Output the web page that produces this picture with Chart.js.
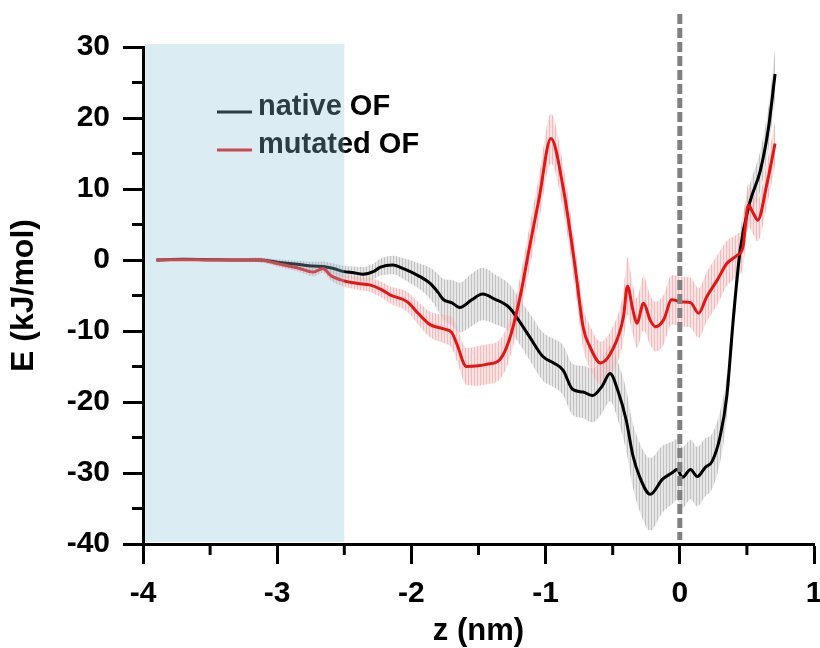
<!DOCTYPE html>
<html>
<head>
<meta charset="utf-8">
<script src="https://cdn.jsdelivr.net/npm/chart.js@4"></script>
<style>
html, body { margin: 0; padding: 0; background: #fff; }
</style>
</head>
<body>
<canvas id="energy_chart" width="820" height="648"></canvas>
<script>
// energy profile along z, native vs mutated
var native_z   = [-3.90,-3.70,-3.50,-3.30,-3.13,-3.00,-2.85,-2.73,-2.66,-2.58,-2.51,-2.43,-2.36,-2.28,-2.23,-2.14,-2.05,-1.94,-1.86,-1.80,-1.76,-1.70,-1.64,-1.55,-1.47,-1.38,-1.27,-1.20,-1.12,-1.02,-0.94,-0.87,-0.80,-0.72,-0.65,-0.58,-0.52,-0.46,-0.40,-0.35,-0.30,-0.22,-0.13,-0.06,-0.02,0.02,0.08,0.13,0.19,0.24,0.30,0.35,0.40,0.45,0.52,0.60,0.66,0.71];
var native_E   = [0,0.1,0.05,0,0,-0.3,-0.6,-0.85,-0.9,-1.2,-1.6,-1.8,-2.0,-1.6,-1.0,-0.7,-1.3,-2.3,-3.3,-4.6,-5.6,-6.0,-6.7,-5.6,-4.8,-5.5,-6.7,-8.5,-10.8,-13.6,-14.5,-15.5,-18.2,-18.6,-19.1,-17.8,-16.0,-18.5,-22.5,-27.5,-30.5,-33.0,-30.9,-30.0,-29.5,-30.6,-29.5,-30.5,-29.2,-28.4,-24.9,-19.2,-8.0,1.4,8.0,12.6,18.5,26.2];
var native_err = [0.2,0.2,0.2,0.2,0.3,0.4,0.5,0.6,0.7,0.7,0.8,0.9,1.0,1.1,1.2,1.3,1.5,1.8,2.2,2.6,2.9,3.2,3.5,3.7,3.7,3.5,3.3,3.2,3.3,3.4,3.4,3.5,3.6,3.7,3.8,3.8,3.9,4.1,4.3,4.5,4.8,5.1,4.7,4.4,4.3,4.3,4.2,4.2,4.1,3.9,3.6,3.0,2.5,2.5,2.5,2.8,3.0,3.5];

var mutated_z   = [-3.90,-3.70,-3.50,-3.30,-3.13,-3.00,-2.85,-2.73,-2.66,-2.60,-2.51,-2.40,-2.31,-2.22,-2.16,-2.03,-1.95,-1.86,-1.76,-1.70,-1.66,-1.59,-1.50,-1.44,-1.34,-1.27,-1.19,-1.12,-1.05,-0.96,-0.87,-0.78,-0.72,-0.67,-0.59,-0.50,-0.42,-0.39,-0.35,-0.32,-0.27,-0.22,-0.18,-0.12,-0.06,0.02,0.08,0.14,0.20,0.28,0.35,0.43,0.47,0.51,0.55,0.58,0.65,0.71];
var mutated_E   = [0,0.05,0,0,0,-0.5,-1.1,-1.7,-1.2,-2.2,-2.9,-3.3,-3.5,-4.2,-4.9,-5.9,-7.5,-9.1,-9.7,-10.2,-11.9,-15.0,-14.9,-14.7,-14.0,-11.2,-5.2,1.8,8.5,17.1,10.3,-1.0,-9.5,-12.2,-14.5,-12.6,-8.0,-3.7,-7.0,-8.9,-6.1,-8.5,-9.4,-8.4,-5.6,-5.9,-6.0,-7.5,-5.2,-2.8,-0.5,0.7,1.8,7.7,6.5,5.6,10.8,16.4];
var mutated_err = [0.2,0.2,0.2,0.2,0.3,0.4,0.5,0.6,0.6,0.7,0.8,0.9,1.0,1.1,1.2,1.4,1.6,1.8,2.0,2.2,2.4,2.6,2.8,2.8,2.8,2.8,2.8,3.0,3.2,3.5,3.2,3.0,3.0,3.0,3.0,3.2,3.5,4.0,3.5,3.5,3.8,3.5,3.5,3.5,3.5,3.5,3.5,3.5,3.5,3.5,3.2,3.0,3.0,3.0,3.0,3.0,3.0,3.2];

var series_names = ["native OF", "mutated OF"];
var x_ticks = [-4, -3, -2, -1, 0, 1];
var x_minor = [-3.5, -2.5, -1.5, -0.5, 0.5];
var y_ticks = [-40, -30, -20, -10, 0, 10, 20, 30];
var y_minor = [-35, -25, -15, -5, 5, 15, 25];
var shaded_from = -4, shaded_to = -2.5;
var marker_z = 0;

var font_family = "'Liberation Sans', Arial, Helvetica, sans-serif";

function points(zs, es, sign, errs) {
    return zs.map(function(z, i) {
        return { x: z, y: es[i] + (errs ? sign * errs[i] : 0) };
    });
}

// vertical hatch, like the error bars in the original plot
function stripes(dark, light) {
    var c = document.createElement('canvas');
    c.width = 3; c.height = 4;
    var g = c.getContext('2d');
    g.fillStyle = light; g.fillRect(0, 0, 3, 4);
    g.fillStyle = dark; g.fillRect(0, 0, 1, 4);
    return g.createPattern(c, 'repeat');
}
var grey_hatch = stripes('rgba(165,165,165,0.55)', 'rgba(205,205,205,0.5)');
var pink_hatch = stripes('rgba(228,150,150,0.5)', 'rgba(240,190,190,0.45)');

function band(data, fillTo, pattern) {
    return {
        data: data, fill: fillTo, backgroundColor: pattern,
        borderWidth: 0, pointRadius: 0, cubicInterpolationMode: 'monotone', order: 2
    };
}

var decor = {
    id: 'decor',
    afterDatasetsDraw: function(chart) {
        var ctx = chart.ctx, xs = chart.scales.x, ys = chart.scales.y, area = chart.chartArea;
        ctx.save();
        // minor ticks
        ctx.strokeStyle = '#000';
        ctx.lineWidth = 3;
        x_minor.forEach(function(v) {
            var px = xs.getPixelForValue(v);
            ctx.beginPath(); ctx.moveTo(px, area.bottom); ctx.lineTo(px, area.bottom + 11); ctx.stroke();
        });
        y_minor.forEach(function(v) {
            var py = ys.getPixelForValue(v);
            ctx.beginPath(); ctx.moveTo(area.left, py); ctx.lineTo(area.left - 11, py); ctx.stroke();
        });
        // dashed marker at z = 0
        var mx = xs.getPixelForValue(marker_z);
        ctx.strokeStyle = '#808080';
        ctx.lineWidth = 5;
        ctx.setLineDash([10, 4]);
        ctx.beginPath(); ctx.moveTo(mx, 14); ctx.lineTo(mx, area.bottom - 4); ctx.stroke();
        ctx.setLineDash([]);
        // legend
        var colors = ['#000000', '#e51515'];
        var baselines = [115, 153];
        ctx.font = 'bold 29px ' + font_family;
        ctx.textBaseline = 'alphabetic';
        series_names.forEach(function(name, i) {
            ctx.strokeStyle = colors[i];
            ctx.lineWidth = 3;
            ctx.beginPath(); ctx.moveTo(217, baselines[i] - 3); ctx.lineTo(252, baselines[i] - 3); ctx.stroke();
            ctx.fillStyle = '#000';
            ctx.fillText(name, 258, baselines[i]);
        });
        // translucent blue region on top
        var x0 = xs.getPixelForValue(shaded_from) + 2, x1 = xs.getPixelForValue(shaded_to);
        ctx.fillStyle = 'rgba(140,195,215,0.31)';
        ctx.fillRect(x0, area.top - 3, x1 - x0, area.bottom - 2 - (area.top - 3));
        ctx.restore();
    }
};

var ctx = document.getElementById('energy_chart');
var energyChart = new Chart(ctx, {
    type: 'line',
    data: {
        datasets: [
            { label: series_names[1], data: points(mutated_z, mutated_E), borderColor: '#e51515', borderWidth: 3,
              pointRadius: 0, fill: false, cubicInterpolationMode: 'monotone', order: 0 },
            { label: series_names[0], data: points(native_z, native_E), borderColor: '#000000', borderWidth: 3,
              pointRadius: 0, fill: false, cubicInterpolationMode: 'monotone', order: 1 },
            band(points(mutated_z, mutated_E, 1, mutated_err), 3, pink_hatch),
            band(points(mutated_z, mutated_E, -1, mutated_err), false, 'rgba(0,0,0,0)'),
            band(points(native_z, native_E, 1, native_err), 5, grey_hatch),
            band(points(native_z, native_E, -1, native_err), false, 'rgba(0,0,0,0)')
        ]
    },
    options: {
        responsive: false,
        animation: false,
        devicePixelRatio: 1,
        layout: { padding: { top: 47, right: 6, left: 0, bottom: 0 } },
        plugins: {
            legend: { display: false },
            tooltip: { enabled: false }
        },
        scales: {
            x: {
                type: 'linear',
                min: -4, max: 1,
                afterBuildTicks: function(scale) { scale.ticks = x_ticks.map(function(v) { return { value: v }; }); },
                afterFit: function(scale) {
                    scale.height = 104;
                    scale.paddingLeft = 0;
                    scale.paddingRight = 6;
                },
                ticks: {
                    color: '#000', padding: 12, maxRotation: 0,
                    font: { family: font_family, size: 30, weight: 'bold' },
                    callback: function(v) { return String(v); }
                },
                grid: { drawOnChartArea: false, drawTicks: true, tickLength: 20, tickWidth: 3, tickColor: '#000' },
                border: { display: true, color: '#000', width: 3 },
                title: {
                    display: true, text: 'z (nm)', color: '#000',
                    font: { family: font_family, size: 31, weight: 'bold', lineHeight: 1.05 },
                    padding: { top: 0, bottom: 0 }
                }
            },
            y: {
                min: -40, max: 30,
                afterBuildTicks: function(scale) { scale.ticks = y_ticks.map(function(v) { return { value: v }; }); },
                afterFit: function(scale) { scale.width = 143; },
                ticks: {
                    color: '#000', padding: 13,
                    font: { family: font_family, size: 30, weight: 'bold' },
                    callback: function(v) { return String(v); }
                },
                grid: { drawOnChartArea: false, drawTicks: true, tickLength: 20, tickWidth: 3, tickColor: '#000' },
                border: { display: true, color: '#000', width: 3 },
                title: {
                    display: true, text: 'E (kJ/mol)', color: '#000',
                    font: { family: font_family, size: 32, weight: 'bold', lineHeight: 1.05 },
                    padding: { top: 7, bottom: 0 }
                }
            }
        }
    },
    plugins: [decor]
});
</script>
</body>
</html>
